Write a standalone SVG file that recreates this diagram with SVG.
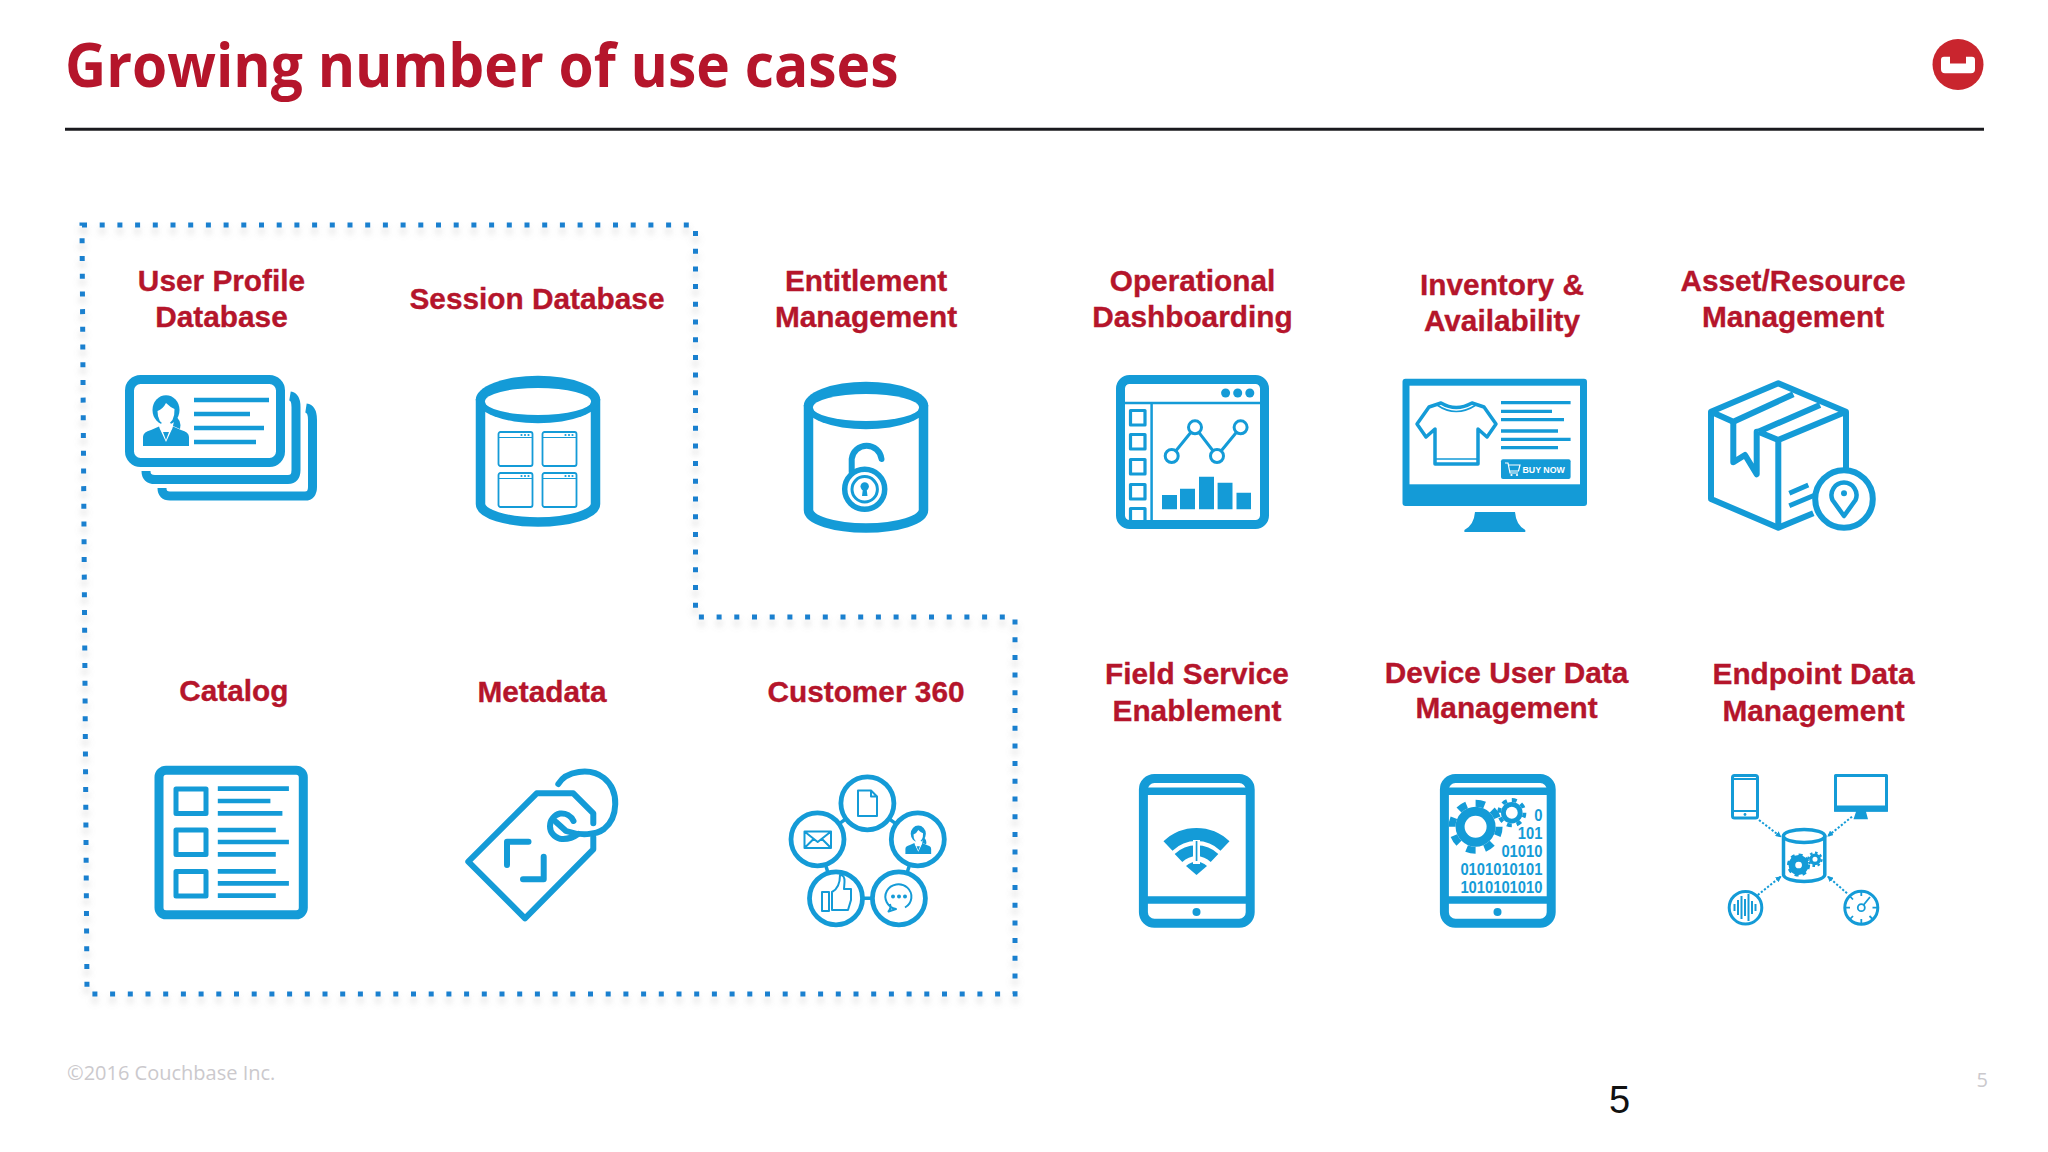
<svg xmlns="http://www.w3.org/2000/svg" width="2048" height="1152" viewBox="0 0 2048 1152">
<style>
.lbl{font-family:"Liberation Sans",Arial,sans-serif;font-weight:700;font-size:29.8px;fill:#b5152b;stroke:#b5152b;stroke-width:.35px;text-anchor:middle}
.st{fill:none;stroke:#149bd7;stroke-linejoin:round}
.sw{fill:#fff;stroke:#149bd7;stroke-linejoin:round}
.f{fill:#149bd7}
.w{fill:#fff}
.rc{stroke-linecap:round}
.bits{font-family:"Liberation Sans",Arial,sans-serif;font-weight:700;font-size:16px;fill:#149bd7;text-anchor:end}
</style>
<defs>
<filter id="blur" x="-5%" y="-5%" width="110%" height="110%"><feGaussianBlur stdDeviation="3"/></filter>
<marker id="ah" markerWidth="6" markerHeight="6" refX="5" refY="3" orient="auto" markerUnits="userSpaceOnUse"><path d="M0 0L6 3L0 6Z" fill="#149bd7"/></marker>
<g id="cyl">
<path class="sw" stroke-width="9.5" d="M-57.5 0V104.5A57.5 18 0 0 0 57.5 104.5V0Z"/>
<ellipse class="f" rx="62.2" ry="23.8"/>
<ellipse class="w" cy="2" rx="53" ry="13.5"/>
</g>
<g id="win">
<rect class="st" width="34" height="34" rx="2" stroke-width="1.8"/>
<path class="st" stroke-width="1" d="M0 5.5H34"/>
<circle class="f" cx="23" cy="3" r="1.1"/><circle class="f" cx="26.5" cy="3" r="1.1"/><circle class="f" cx="30" cy="3" r="1.1"/>
</g>
<g id="person">
<ellipse class="f" cx="23" cy="14" rx="13.5" ry="14.8"/>
<path class="f" d="M32 20Q39 24 37 33L30 30Z"/>
<path class="f" d="M0 50V41Q0 36 8 34L16 30.5L23 44L30 30.5L38 34Q46 36 46 41V50Z"/>
<path class="w" d="M23 7Q27 11 31.5 13Q32 26 23 29Q14.5 27 14.5 15Q20 13 23 7Z"/>
<path class="w" d="M18.5 27H27.5L29.5 32L23 46L16.5 32Z"/>
<path class="f" d="M20 36H26L23 44Z"/>
</g>
<g id="gear">
<circle class="f" r="20"/>
<circle class="st" r="23.5" stroke-width="7" pathLength="16" stroke-dasharray="1 1"/>
<circle class="w" r="11"/>
</g>
</defs>
<rect width="2048" height="1152" fill="#fff"/>
<text x="65" y="87" font-family="'Open Sans',sans-serif" font-weight="700" font-size="60" fill="#b5152b" textLength="833.5" lengthAdjust="spacingAndGlyphs">Growing number of use cases</text>
<path d="M65 129.3H1984" stroke="#1a1a1e" stroke-width="3" fill="none"/>
<g id="logo">
<circle cx="1958" cy="64.5" r="25.5" fill="#c9252e"/>
<path class="w" d="M1944 56.7H1950V63.5H1966V56.7H1972Q1975 56.7 1975 59.7V69.3Q1975 73.3 1971 73.3H1945Q1941 73.3 1941 69.3V59.7Q1941 56.7 1944 56.7Z"/>
</g>
<g id="region">
<path d="M82 225H695.5V617H1015V994H87Z" transform="translate(0 6)" fill="none" stroke="#888" stroke-opacity=".28" stroke-width="6" stroke-dasharray="5 12.7" filter="url(#blur)"/>
<path d="M82 225H695.5V617H1015V994H87Z" fill="none" stroke="#1a80cf" stroke-width="5" stroke-dasharray="5 12.7"/>
</g>
<g id="connectors">
<path class="st" stroke-width="3.5" d="M867.4 803.3L917.8 839.3L898.9 898.3H836L817.5 839.3Z"/>
<g class="st" stroke-width="2" stroke-dasharray="2.2 1.8">
<path marker-end="url(#ah)" d="M1759 820L1780.7 836.7"/>
<path marker-end="url(#ah)" d="M1852 816.7L1828 836"/>
<path marker-end="url(#ah)" d="M1757.8 895L1780.7 876.7"/>
<path marker-end="url(#ah)" d="M1847 893.3L1828 876.7"/>
</g>
</g>
<g id="user-profile">
<text class="lbl" x="221.5" y="291">User Profile</text><text class="lbl" x="221.5" y="327">Database</text>
<path class="st" stroke-width="9" d="M306 408Q312.5 409 312.5 420V487Q312.5 496 305 496H170Q162 496 162 488"/>
<path class="st" stroke-width="9" d="M290 396Q296 397 296 407V470Q296 479.5 288 479.5H155Q146 479.5 146 471"/>
<rect class="sw" x="129.5" y="379.5" width="151" height="83" rx="11" stroke-width="9"/>
<use href="#person" x="143" y="396"/>
<g class="st" stroke-width="4.7"><path d="M194 400H269M194 414H250M194 428H264M194 442H256"/></g>
</g>
<g id="session-db">
<text class="lbl" x="537" y="309">Session Database</text>
<use href="#cyl" x="538" y="399.5"/>
<use href="#win" x="498.5" y="432"/><use href="#win" x="542.5" y="432"/>
<use href="#win" x="498.5" y="473"/><use href="#win" x="542.5" y="473"/>
</g>
<g id="entitlement">
<text class="lbl" x="866" y="290.8">Entitlement</text><text class="lbl" x="866" y="327.4">Management</text>
<use href="#cyl" x="866" y="405.5"/>
<path class="st rc" stroke-width="6" d="M851.7 472V459A15 15 0 0 1 881.5 459"/>
<circle class="sw" cx="864.7" cy="489.3" r="20" stroke-width="5.5"/>
<circle class="st" cx="864.7" cy="489.3" r="12.7" stroke-width="3"/>
<circle class="f" cx="864.7" cy="486.5" r="4.2"/><path class="f" d="M863 488H866.5L867.5 496H862Z"/>
</g>
<g id="dashboarding">
<text class="lbl" x="1192.5" y="290.8">Operational</text><text class="lbl" x="1192.5" y="327.4">Dashboarding</text>
<rect class="st" x="1120.5" y="379.5" width="144" height="145" rx="9" stroke-width="9"/>
<path class="st" stroke-width="2.5" d="M1125 403H1260M1151.6 403V520"/>
<circle class="f" cx="1225.6" cy="393" r="4.5"/><circle class="f" cx="1237.7" cy="393" r="4.5"/><circle class="f" cx="1249.8" cy="393" r="4.5"/>
<g class="st" stroke-width="3.2"><rect x="1130.5" y="410.5" width="14.5" height="14.5"/><rect x="1130.5" y="434.5" width="14.5" height="14.5"/><rect x="1130.5" y="459.5" width="14.5" height="14.5"/><rect x="1130.5" y="484.5" width="14.5" height="14.5"/><path d="M1130.5 520V508.5H1145V520"/></g>
<path class="st" stroke-width="3" d="M1171.7 456L1195 427.3L1217 456L1240.6 427.3"/>
<g class="sw" stroke-width="3"><circle cx="1171.7" cy="456" r="6.5"/><circle cx="1195" cy="427.3" r="6.5"/><circle cx="1217" cy="456" r="6.5"/><circle cx="1240.6" cy="427.3" r="6.5"/></g>
<path class="f" d="M1162 495H1177V509.3H1162ZM1180 488.7H1195V509.3H1180ZM1199 476.7H1214V509.3H1199ZM1217.6 482.7H1232.5V509.3H1217.6ZM1236.5 492.7H1251V509.3H1236.5Z"/>
</g>
<g id="inventory">
<text class="lbl" x="1502" y="294.7">Inventory &amp;</text><text class="lbl" x="1502" y="331.3">Availability</text>
<rect class="f" x="1402.5" y="378.7" width="184.5" height="127.3" rx="3"/>
<rect class="w" x="1409.5" y="385.7" width="170.5" height="98.6"/>
<path class="f" d="M1475 512H1515Q1516 525 1525.3 530V532H1464.4V530Q1474 525 1475 512Z"/>
<path class="st" stroke-width="3.5" d="M1441 403L1429 407L1417 424L1426 437L1435 429V464H1478V429L1487 437L1496 424L1484 407L1472 403Q1456 412 1441 403Z"/>
<path class="st" stroke-width="1.6" d="M1437 405Q1456 418 1476 405M1435 459H1478"/>
<path class="st" stroke-width="3.3" d="M1501 402.7H1570.6M1501 411.3H1552M1501 419.7H1564M1501 431H1558M1501 439.3H1570.6M1501 447.7H1558"/>
<rect class="f" x="1501" y="459.3" width="69.6" height="19.7" rx="2"/>
<path fill="none" stroke="#fff" stroke-width="1.2" d="M1505 463H1508L1510 473H1518M1508.5 465H1520L1518.5 471H1509.5"/>
<circle class="w" cx="1511.5" cy="475" r="1.1"/><circle class="w" cx="1517" cy="475" r="1.1"/>
<text x="1522.5" y="472.5" font-family="'Liberation Sans',sans-serif" font-weight="700" font-size="8.8" fill="#fff">BUY NOW</text>
</g>
<g id="asset">
<text class="lbl" x="1793" y="290.8">Asset/Resource</text><text class="lbl" x="1793" y="327.4">Management</text>
<path class="st" stroke-width="6" d="M1846 470V411.7L1778.3 383.3L1711 411.7V499L1778.3 527.7L1813.3 513.3"/>
<path class="st" stroke-width="6" d="M1711 411.7L1733.3 421.7L1793.3 394.3M1758.3 431.7L1820 405M1758.3 431.7L1778.3 440L1846 411.7M1778.3 440V527.7"/>
<path class="st" stroke-width="6" d="M1733.3 421.7V462.3L1745 455L1756.7 474.3V431.7H1758.3"/>
<path class="st" stroke-width="4.8" d="M1789.3 493.3L1808.3 485M1789.3 505.7L1815 495"/>
<circle class="sw" cx="1844" cy="499" r="28.8" stroke-width="6"/>
<path class="st" stroke-width="4.5" d="M1844 516L1832.5 500A12.5 12.5 0 1 1 1855.5 500Z"/>
<circle class="f" cx="1844" cy="493.3" r="3"/>
</g>
<g id="catalog">
<text class="lbl" x="233.8" y="701">Catalog</text>
<rect class="st" x="159" y="770.2" width="144.3" height="144.6" rx="7" stroke-width="9"/>
<g class="st" stroke-width="5"><rect x="176" y="789" width="30" height="24.5"/><rect x="176" y="830" width="30" height="24.5"/><rect x="176" y="871.5" width="30" height="24.5"/></g>
<path class="st" stroke-width="4.7" d="M217.8 788.7H288.9M217.8 801H270.4M217.8 813.3H282.4M217.8 830H275.8M217.8 842H288.9M217.8 854.3H275.8M217.8 871.3H275.8M217.8 883.3H288.9M217.8 895.7H275.8"/>
</g>
<g id="metadata">
<text class="lbl" x="542" y="702">Metadata</text>
<path class="st rc" stroke-width="6" d="M593.3 823.3V813.3L573.3 793.3H536.7L468.3 861.7L525 918.3L593.3 849.3V837.3"/>
<path class="st rc" stroke-width="6" d="M558.3 784C566 771 590 767 604 778C620 791 618 818 604 829C596 835 580 836 566 831L556 822"/>
<path class="st rc" stroke-width="6" d="M573.5 821A13 12.5 0 0 0 560 813.5A13 13 0 0 0 560 838.8Q570 840 578 834"/>
<path class="st rc" stroke-width="6" d="M528.5 841.7H507V865M543.7 856.7V879.3H523"/>
</g>
<g id="customer360">
<text class="lbl" x="866" y="702">Customer 360</text>
<g class="sw" stroke-width="4.8"><circle cx="867.4" cy="803.3" r="26.5"/><circle cx="917.8" cy="839.3" r="26.5"/><circle cx="817.5" cy="839.3" r="26.5"/><circle cx="836" cy="898.3" r="26.5"/><circle cx="898.9" cy="898.3" r="26.5"/></g>
<path class="st" stroke-width="2" d="M858 790.5H871L877 796.5V816H858ZM871 790.5V796.5H877"/>
<use href="#person" transform="translate(905.4 826) scale(.56)"/>
<path class="st" stroke-width="2" d="M804.5 831.5H831V848H804.5ZM804.5 831.5L817.7 842L831 831.5M804.5 848L813.5 839M831 848L822 839"/>
<path class="st" stroke-width="2" d="M822 892H829V911H822ZM832 892Q840 888 840 875Q845 875 844.5 882L844 889H851V900L848 910H832Z"/>
<path class="st" stroke-width="2" d="M905 907.5A13 12.5 0 1 0 896 909L888.5 911.5Q891.5 908 890 904"/>
<circle class="f" cx="893" cy="896.5" r="2"/><circle class="f" cx="899" cy="896.5" r="2"/><circle class="f" cx="905" cy="896.5" r="2"/>
</g>
<g id="field-service">
<text class="lbl" x="1197" y="684">Field Service</text><text class="lbl" x="1197" y="720.5">Enablement</text>
<rect class="st" x="1143.4" y="778.5" width="106.8" height="144.7" rx="11" stroke-width="9"/>
<path class="st" stroke-width="7.5" d="M1146 791.2H1248M1146 900H1248"/>
<circle class="f" cx="1196.5" cy="912" r="4"/>
<path class="st" stroke-width="13" d="M1168 846A41 41 0 0 1 1225 846"/>
<path class="st" stroke-width="11" d="M1178.5 858A26 26 0 0 1 1214.5 858"/>
<path class="f" d="M1186 866L1196.5 875L1207 866Q1196.5 857 1186 866Z"/>
<rect class="w" x="1193" y="840" width="7" height="24"/><rect class="f" x="1195.7" y="841" width="1.7" height="20"/>
</g>
<g id="device-data">
<text class="lbl" x="1506.6" y="682.6">Device User Data</text><text class="lbl" x="1506.6" y="718">Management</text>
<rect class="st" x="1444.4" y="778.5" width="106.8" height="144.7" rx="11" stroke-width="9"/>
<path class="st" stroke-width="7.5" d="M1447 791.2H1549M1447 900H1549"/>
<circle class="f" cx="1497.5" cy="912" r="4"/>
<use href="#gear" x="1475.6" y="826.7"/>
<use href="#gear" transform="translate(1511.8 812.7) scale(.54)"/>
<text class="bits" x="1542.4" y="821" textLength="8.2" lengthAdjust="spacingAndGlyphs">0</text>
<text class="bits" x="1542.4" y="839.3" textLength="24.6" lengthAdjust="spacingAndGlyphs">101</text>
<text class="bits" x="1542.4" y="857.3" textLength="41" lengthAdjust="spacingAndGlyphs">01010</text>
<text class="bits" x="1542.4" y="875.3" textLength="82" lengthAdjust="spacingAndGlyphs">0101010101</text>
<text class="bits" x="1542.4" y="893.3" textLength="82" lengthAdjust="spacingAndGlyphs">1010101010</text>
</g>
<g id="endpoint">
<text class="lbl" x="1813.5" y="684">Endpoint Data</text><text class="lbl" x="1813.5" y="720.5">Management</text>
<rect class="st" x="1732.5" y="775.5" width="25" height="42.5" rx="2" stroke-width="3"/>
<path class="st" stroke-width="2" d="M1733 779H1757M1733 811H1757"/><circle class="f" cx="1745" cy="814.5" r="1.4"/>
<rect class="st" x="1835.5" y="775.5" width="51" height="34.5" stroke-width="3"/>
<path class="f" d="M1834 805.5H1888V811.7H1834ZM1856 811.7H1866L1868 819.3H1853.5Z"/>
<path class="sw" stroke-width="3.5" d="M1783.5 836V875A20.7 7 0 0 0 1824.8 875V836Z"/>
<ellipse class="sw" cx="1804.1" cy="836" rx="20.7" ry="6.5" stroke-width="3.5"/>
<g transform="translate(1798.6 865) scale(.42)"><circle class="st" r="16" stroke-width="16"/><circle class="st" r="23.5" stroke-width="8" pathLength="16" stroke-dasharray="1 1"/></g>
<g transform="translate(1815 859.3) scale(.28)"><circle class="st" r="15" stroke-width="12"/><circle class="st" r="23.5" stroke-width="8" pathLength="16" stroke-dasharray="1 1"/></g>
<circle class="st" cx="1745.5" cy="907.7" r="16.3" stroke-width="3"/>
<path class="st" stroke-width="2" d="M1734.5 904V911M1738 900V915M1741.5 896V919M1745 899V916M1748.5 894V921M1752 901V914M1755.5 904V911"/>
<circle class="st" cx="1861.3" cy="907.7" r="16.5" stroke-width="3"/>
<circle class="st" cx="1861.3" cy="907.7" r="3.5" stroke-width="1.8"/>
<path class="st" stroke-width="1.8" d="M1863.5 905L1870 897M1861.3 891V896M1861.3 919V924M1845 907.7H1850M1872.5 907.7H1877.5M1849.7 896L1853 899.5M1873 919.5L1869.5 916M1849.7 919.5L1853 916"/>
</g>
<text x="67" y="1080" font-family="'Open Sans',sans-serif" font-size="20" fill="#cbc9cd">©2016 Couchbase Inc.</text>
<text x="1976.5" y="1086.7" font-family="'Open Sans',sans-serif" font-size="20" fill="#cbc9cd">5</text>
<text x="1609" y="1112.7" font-family="'Liberation Sans',sans-serif" font-size="38" fill="#111">5</text>
</svg>
